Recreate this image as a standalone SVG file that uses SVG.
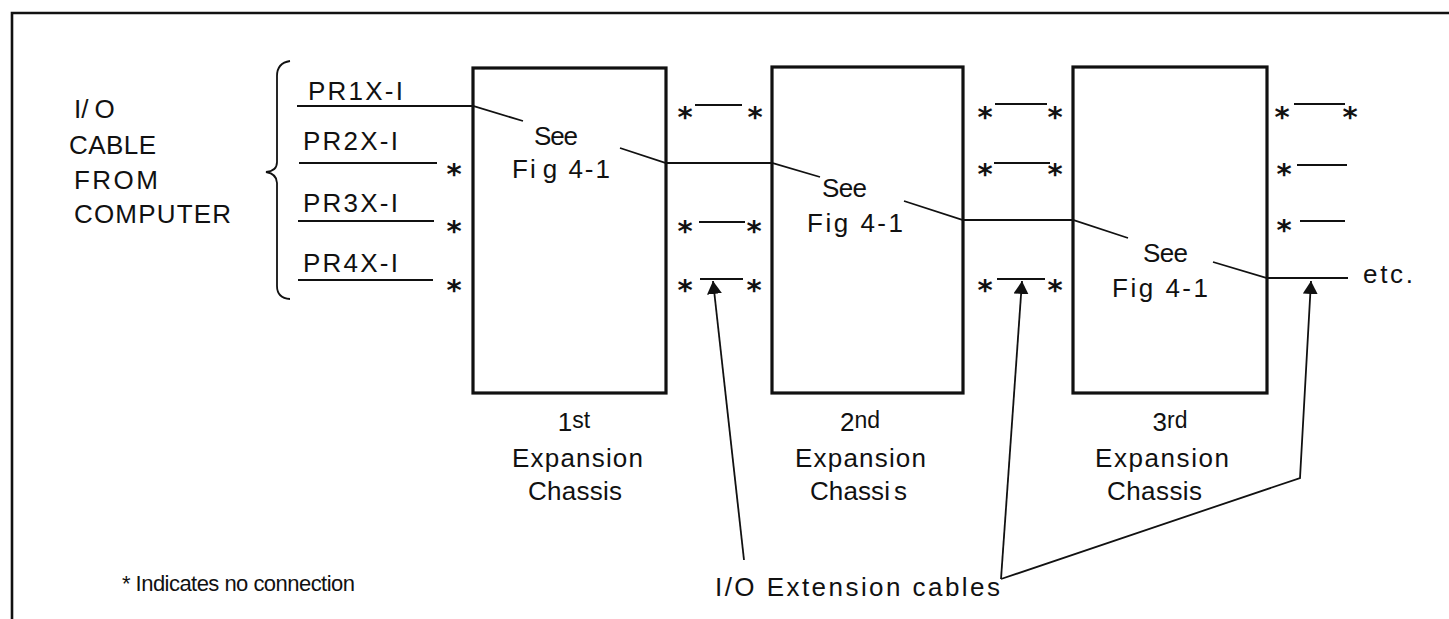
<svg xmlns="http://www.w3.org/2000/svg" width="1449" height="619" viewBox="0 0 1449 619">
<style>
text{font-family:"Liberation Sans",Arial,sans-serif;font-size:26px;fill:#111}
.ast{font-family:"DejaVu Sans",sans-serif;font-size:29px;font-weight:bold;text-anchor:middle}
.box{fill:none;stroke:#111;stroke-width:3.2}
.ln{fill:none;stroke:#111;stroke-width:1.8}
.bd{fill:none;stroke:#111;stroke-width:2.6}
.mid{text-anchor:middle}
.note{font-size:22px}
</style>
<defs>
<marker id="ah" markerUnits="userSpaceOnUse" markerWidth="14" markerHeight="16" refX="13" refY="7.5" orient="auto">
<path d="M0,0 L13,7.5 L0,15 z" fill="#111"/>
</marker>
</defs>
<g id="frame">
<path class="bd" d="M1449,13 H12 V619"/>
</g>
<g id="source">
<text x="74" y="118">I/<tspan dx="6">O</tspan></text>
<text x="69" y="154" textLength="87" lengthAdjust="spacing">CABLE</text>
<text x="74" y="189" textLength="84" lengthAdjust="spacing">FROM</text>
<text x="74" y="223" textLength="157" lengthAdjust="spacing">COMPUTER</text>
<path class="ln" d="M290,61 Q277,63 277,76 V162 Q277,171 266,172 Q277,174 277,183 V286 Q277,298 290,299"/>
<text x="308" y="100" textLength="95" lengthAdjust="spacing">PR1X-I</text>
<text x="303" y="150" textLength="95" lengthAdjust="spacing">PR2X-I</text>
<text x="303" y="212" textLength="95" lengthAdjust="spacing">PR3X-I</text>
<text x="303" y="272" textLength="95" lengthAdjust="spacing">PR4X-I</text>
<text class="ast" x="454" y="184">*</text>
<text class="ast" x="454" y="241">*</text>
<text class="ast" x="454" y="300">*</text>
</g>
<g id="chassis1">
<rect class="box" x="473" y="68" width="193" height="325"/>
<text x="534" y="145" textLength="44" lengthAdjust="spacing">See</text>
<text x="512" y="178" textLength="98" lengthAdjust="spacing">Fi<tspan dx="5">g</tspan> 4-1</text>
<text class="mid" x="574" y="431">1<tspan font-size="23" dy="-3">st</tspan></text>
<text x="512" y="467" textLength="131" lengthAdjust="spacing">Expansion</text>
<text x="528" y="500" textLength="94" lengthAdjust="spacing">Chassis</text>
</g>
<g id="chassis2">
<rect class="box" x="772" y="67" width="191" height="326"/>
<text x="822" y="197" textLength="45" lengthAdjust="spacing">See</text>
<text x="807" y="232" textLength="96" lengthAdjust="spacing">Fig 4-1</text>
<text class="mid" x="860" y="431">2<tspan font-size="23" dy="-3">nd</tspan></text>
<text x="795" y="467" textLength="131" lengthAdjust="spacing">Expansion</text>
<text x="810" y="500" textLength="97" lengthAdjust="spacing">Chassi<tspan dx="4">s</tspan></text>
</g>
<g id="chassis3">
<rect class="box" x="1073" y="67" width="194" height="326"/>
<text x="1143" y="262" textLength="45" lengthAdjust="spacing">See</text>
<text x="1112" y="297" textLength="96" lengthAdjust="spacing">Fig 4-1</text>
<text class="mid" x="1170" y="431">3<tspan font-size="23" dy="-3">rd</tspan></text>
<text x="1095" y="467" textLength="134" lengthAdjust="spacing">Expansion</text>
<text x="1107" y="500" textLength="95" lengthAdjust="spacing">Chassis</text>
</g>
<g id="unused-ends">
<text class="ast" x="685" y="127">*</text><text class="ast" x="755" y="127">*</text>
<text class="ast" x="685" y="241">*</text><text class="ast" x="754" y="241">*</text>
<text class="ast" x="685" y="300">*</text><text class="ast" x="754" y="300">*</text>
<text class="ast" x="985" y="127">*</text><text class="ast" x="1055" y="127">*</text>
<text class="ast" x="985" y="184">*</text><text class="ast" x="1055" y="184">*</text>
<text class="ast" x="985" y="300">*</text><text class="ast" x="1055" y="300">*</text>
<text class="ast" x="1282" y="127">*</text><text class="ast" x="1350" y="127">*</text>
<text class="ast" x="1284" y="184">*</text>
<text class="ast" x="1284" y="240">*</text>
<text x="1363" y="283" textLength="50" lengthAdjust="spacing">etc.</text>
</g>
<g id="notes">
<text class="note" x="122" y="591" textLength="233" lengthAdjust="spacing">* Indicates no connection</text>
<text x="715" y="596" textLength="285" lengthAdjust="spacing">I/O Extension cables</text>
</g>
<g id="connectors">
<path class="ln" d="M297,106 H473 L523,121"/>
<path class="ln" d="M299,163 H437"/>
<path class="ln" d="M298,221 H434"/>
<path class="ln" d="M298,280 H433"/>
<path class="ln" d="M620,148 L666,163 H772 L820,177"/>
<path class="ln" d="M904,201 L963,220 H1073 L1128,238"/>
<path class="ln" d="M1213,262 L1267,278 H1348"/>
<path class="ln" d="M695,105 H742"/>
<path class="ln" d="M699,222 H745"/>
<path class="ln" d="M700,279 H743"/>
<path class="ln" d="M995,104 H1047"/>
<path class="ln" d="M994,163 H1050"/>
<path class="ln" d="M997,279 H1045"/>
<path class="ln" d="M1294,104 H1345"/>
<path class="ln" d="M1297,165 H1347"/>
<path class="ln" d="M1300,221 H1345"/>
<path class="ln" d="M744,560 L713,281" marker-end="url(#ah)"/>
<path class="ln" d="M1001,579 L1022,281" marker-end="url(#ah)"/>
<path class="ln" d="M1001,579 L1300,478 L1311,281" marker-end="url(#ah)"/>
</g>
</svg>
